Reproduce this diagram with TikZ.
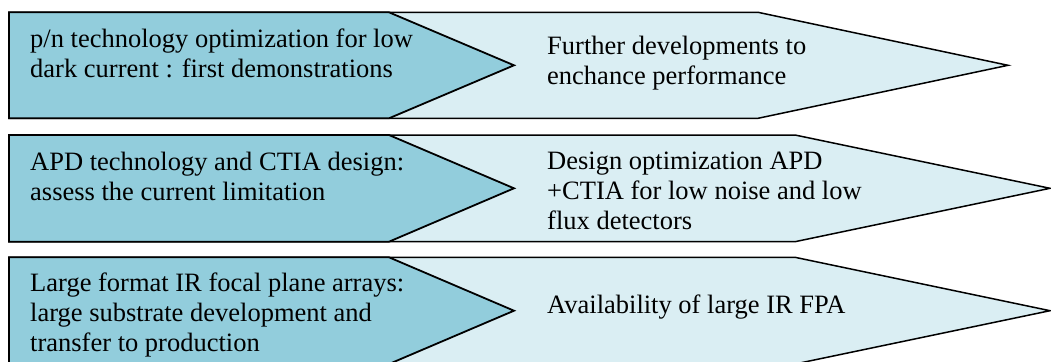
\documentclass[tikz,border=0pt]{standalone}
\usepackage{fontspec}
\setmainfont{Liberation Serif}
\definecolor{darkfill}{HTML}{92CDDC}
\definecolor{lightfill}{HTML}{DAEEF3}
\begin{document}
\begin{tikzpicture}[x=1bp,y=-1bp,
  darkshape/.style={fill=darkfill,draw=black,line width=1.8bp,line join=miter},
  lightshape/.style={fill=lightfill,draw=black,line width=1.5bp,line join=miter},
  txt/.style={inner sep=0pt,anchor=base west,align=left,font=\fontsize{26.5bp}{30bp}\selectfont}]
\useasboundingbox (0,0) rectangle (1051,361);
\clip (0,0) rectangle (1051,361);
% row 1
\draw[lightshape] (9,12.3) -- (758,12.3) -- (1008,65.3) -- (758,118.3) -- (9,118.3) -- cycle;
\draw[darkshape] (9,12.3) -- (389,12.3) -- (514,65.3) -- (389,118.3) -- (9,118.3) -- cycle;
% row 2
\draw[lightshape] (9,135) -- (795,135) -- (1050,188.3) -- (795,241.7) -- (9,241.7) -- cycle;
\draw[darkshape] (9,135) -- (389,135) -- (514,188.3) -- (389,241.7) -- (9,241.7) -- cycle;
% row 3
\draw[lightshape] (9,257.3) -- (795,257.3) -- (1050,310.7) -- (795,364) -- (9,364) -- cycle;
\draw[darkshape] (9,257.3) -- (389,257.3) -- (514,310.7) -- (389,364) -- (9,364) -- cycle;
% texts (base anchor = baseline of last line)
\node[txt] (d1) at (30,77.3) {p/n technology optimization for low\\dark current : first demonstrations};
\node[txt] (l1) at (547,84) {Further developments to\\enchance performance};
\node[txt] (d2) at (30,200.7) {APD technology and CTIA design:\\assess the current limitation};
\node[txt] (l2) at (547,229) {Design optimization APD\\+CTIA for low noise and low\\flux detectors};
\node[txt] (d3) at (30,351.7) {Large format IR focal plane arrays:\\large substrate development and\\transfer to production};
\node[txt] (l3) at (547,313.3) {Availability of large IR FPA};
\end{tikzpicture}
\end{document}
